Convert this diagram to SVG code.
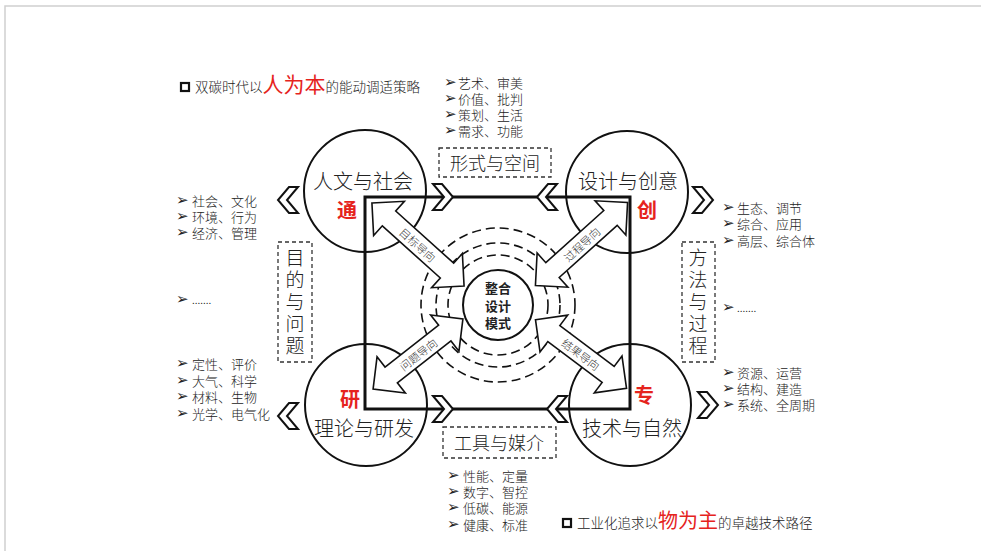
<svg xmlns="http://www.w3.org/2000/svg" width="981" height="551" viewBox="0 0 981 551">
<style>
.t{font-family:"Noto Sans CJK SC","Liberation Sans",sans-serif;fill:#222;font-weight:300;}
.li{font-size:13px;dominant-baseline:central;}
.bu{font-family:"DejaVu Sans",sans-serif;font-size:15px;fill:#222;}
.cl{font-size:20px;text-anchor:middle;dominant-baseline:central;}
.red{fill:#e5231d;font-weight:bold;}
.redn{fill:#e5231d;font-weight:400;}
.bx{font-size:18px;text-anchor:middle;dominant-baseline:central;}
.vx{font-size:19px;writing-mode:vertical-rl;letter-spacing:3px;}
.al{font-size:11px;text-anchor:middle;dominant-baseline:central;fill:#333;}
.circ{fill:none;stroke:#111;stroke-width:2;}
.dbox{fill:none;stroke:#333;stroke-width:1.3;stroke-dasharray:4 3;}
.ring{fill:none;stroke:#111;stroke-width:1.6;stroke-dasharray:9 5;}
.arr{fill:#fff;stroke:#111;stroke-width:1.6;stroke-linejoin:miter;}
.chev{fill:#fff;stroke:#111;stroke-width:2;stroke-linejoin:miter;}
</style>
<defs>
<polygon id="chr" points="-10,-13 -1,-13 10,0 -1,13 -10,13 1,0"/>
</defs>
<rect x="5" y="6" width="980" height="550" fill="none" stroke="#cfcfcf" stroke-width="1.5"/>

<g id="connectors">
<rect x="365" y="197" width="265" height="212" fill="none" stroke="#111" stroke-width="3"/>
<g id="rings">
<circle class="ring" cx="498" cy="305" r="50"/>
<circle class="ring" cx="498" cy="305" r="62"/>
<circle class="ring" cx="498" cy="305" r="77"/>
</g>
</g>

<g id="circles">
<circle class="circ" cx="365" cy="191" r="61"/>
<circle class="circ" cx="627" cy="192" r="61"/>
<circle class="circ" cx="366" cy="405" r="61"/>
<circle class="circ" cx="630" cy="405" r="61"/>
</g>

<g id="center">
<circle cx="498" cy="305" r="35" fill="#fff" stroke="#111" stroke-width="2"/>
<text class="t" font-size="13" style="font-weight:bold" text-anchor="middle"><tspan x="498" y="293">整合</tspan><tspan x="498" y="311">设计</tspan><tspan x="498" y="328">模式</tspan></text>
</g>

<g id="arrows">
<g transform="translate(418,244.5) rotate(42)">
<polygon class="arr" points="-62,0 -39,-23 -39,-10 39,-10 39,-23 62,0 39,23 39,10 -39,10 -39,23"/>
<text class="t al" x="0" y="0">目标导向</text>
</g>
<g transform="translate(581.5,244) rotate(-42)">
<polygon class="arr" points="-62,0 -39,-23 -39,-10 39,-10 39,-23 62,0 39,23 39,10 -39,10 -39,23"/>
<text class="t al" x="0" y="0">过程导向</text>
</g>
<g transform="translate(418,354) rotate(-38)">
<polygon class="arr" points="-57,0 -34,-23 -34,-10 34,-10 34,-23 57,0 34,23 34,10 -34,10 -34,23"/>
<text class="t al" x="0" y="0">问题导向</text>
</g>
<g transform="translate(581,354) rotate(37)">
<polygon class="arr" points="-57,0 -34,-23 -34,-10 34,-10 34,-23 57,0 34,23 34,10 -34,10 -34,23"/>
<text class="t al" x="0" y="0">结果导向</text>
</g>
</g>

<g id="chevrons">
<use href="#chr" class="chev" transform="translate(443,197)"/>
<use href="#chr" class="chev" transform="translate(547,197) scale(-1,1)"/>
<use href="#chr" class="chev" transform="translate(443,409)"/>
<use href="#chr" class="chev" transform="translate(557,409) scale(-1,1)"/>
<use href="#chr" class="chev" transform="translate(288,200) scale(-1,1)"/>
<use href="#chr" class="chev" transform="translate(288,416) scale(-1,1)"/>
<use href="#chr" class="chev" transform="translate(703,200)"/>
<use href="#chr" class="chev" transform="translate(708,405)"/>
</g>

<g id="node-humanities">
<text class="t cl" x="363" y="180">人文与社会</text>
<text class="t cl red" x="347" y="209">通</text>
</g>
<g id="node-design">
<text class="t cl" x="628" y="180">设计与创意</text>
<text class="t cl red" x="647" y="209">创</text>
</g>
<g id="node-theory">
<text class="t cl red" x="350" y="398">研</text>
<text class="t cl" x="364" y="427">理论与研发</text>
</g>
<g id="node-tech">
<text class="t cl red" x="644" y="394">专</text>
<text class="t cl" x="632" y="427">技术与自然</text>
</g>

<g id="box-form">
<rect class="dbox" x="439" y="148" width="112" height="29"/>
<text class="t bx" x="495" y="162">形式与空间</text>
</g>
<g id="box-tools">
<rect class="dbox" x="443" y="427" width="113" height="31"/>
<text class="t bx" x="499" y="442">工具与媒介</text>
</g>
<g id="box-purpose">
<rect class="dbox" x="278" y="242" width="34" height="120"/>
<text class="t vx" x="295" y="248">目的与问题</text>
</g>
<g id="box-method">
<rect class="dbox" x="682" y="242" width="33" height="120"/>
<text class="t vx" x="698" y="248">方法与过程</text>
</g>

<g id="list-top">
<text class="t li"><tspan class="bu" x="444" y="82">➢</tspan><tspan x="458" y="82">艺术、审美</tspan><tspan class="bu" x="444" y="98">➢</tspan><tspan x="458" y="98">价值、批判</tspan><tspan class="bu" x="444" y="114">➢</tspan><tspan x="458" y="114">策划、生活</tspan><tspan class="bu" x="444" y="130">➢</tspan><tspan x="458" y="130">需求、功能</tspan></text>
</g>
<g id="list-left">
<text class="t li"><tspan class="bu" x="176" y="200">➢</tspan><tspan x="192" y="200">社会、文化</tspan><tspan class="bu" x="176" y="216">➢</tspan><tspan x="192" y="216">环境、行为</tspan><tspan class="bu" x="176" y="232">➢</tspan><tspan x="192" y="232">经济、管理</tspan></text>
<text class="t li"><tspan class="bu" x="176" y="299">➢</tspan><tspan x="192" y="299" font-size="11">.......</tspan></text>
<text class="t li"><tspan class="bu" x="176" y="363">➢</tspan><tspan x="192" y="363">定性、评价</tspan><tspan class="bu" x="176" y="380">➢</tspan><tspan x="192" y="380">大气、科学</tspan><tspan class="bu" x="176" y="396">➢</tspan><tspan x="192" y="396">材料、生物</tspan><tspan class="bu" x="176" y="413">➢</tspan><tspan x="192" y="413">光学、电气化</tspan></text>
</g>
<g id="list-right">
<text class="t li"><tspan class="bu" x="722" y="207">➢</tspan><tspan x="737" y="207">生态、调节</tspan><tspan class="bu" x="722" y="223">➢</tspan><tspan x="737" y="223">综合、应用</tspan><tspan class="bu" x="722" y="240">➢</tspan><tspan x="737" y="240">高层、综合体</tspan></text>
<text class="t li"><tspan class="bu" x="722" y="307">➢</tspan><tspan x="737" y="307" font-size="11">.......</tspan></text>
<text class="t li"><tspan class="bu" x="722" y="372">➢</tspan><tspan x="737" y="372">资源、运营</tspan><tspan class="bu" x="722" y="388">➢</tspan><tspan x="737" y="388">结构、建造</tspan><tspan class="bu" x="722" y="404">➢</tspan><tspan x="737" y="404">系统、全周期</tspan></text>
</g>
<g id="list-bottom">
<text class="t li"><tspan class="bu" x="447" y="475">➢</tspan><tspan x="463" y="475">性能、定量</tspan><tspan class="bu" x="447" y="491">➢</tspan><tspan x="463" y="491">数字、智控</tspan><tspan class="bu" x="447" y="507">➢</tspan><tspan x="463" y="507">低碳、能源</tspan><tspan class="bu" x="447" y="524">➢</tspan><tspan x="463" y="524">健康、标准</tspan></text>
</g>

<g id="title-top">
<rect x="181" y="83" width="8" height="8" fill="none" stroke="#111" stroke-width="2.2"/>
<text class="t" y="92" font-size="13.5"><tspan x="195">双碳时代以</tspan><tspan class="redn" font-size="21">人为本</tspan><tspan>的能动调适策略</tspan></text>
</g>
<g id="title-bottom">
<rect x="563" y="519" width="8" height="8" fill="none" stroke="#111" stroke-width="2.2"/>
<text class="t" y="528" font-size="13.5"><tspan x="577">工业化追求以</tspan><tspan class="redn" font-size="20">物为主</tspan><tspan>的卓越技术路径</tspan></text>
</g>
</svg>
